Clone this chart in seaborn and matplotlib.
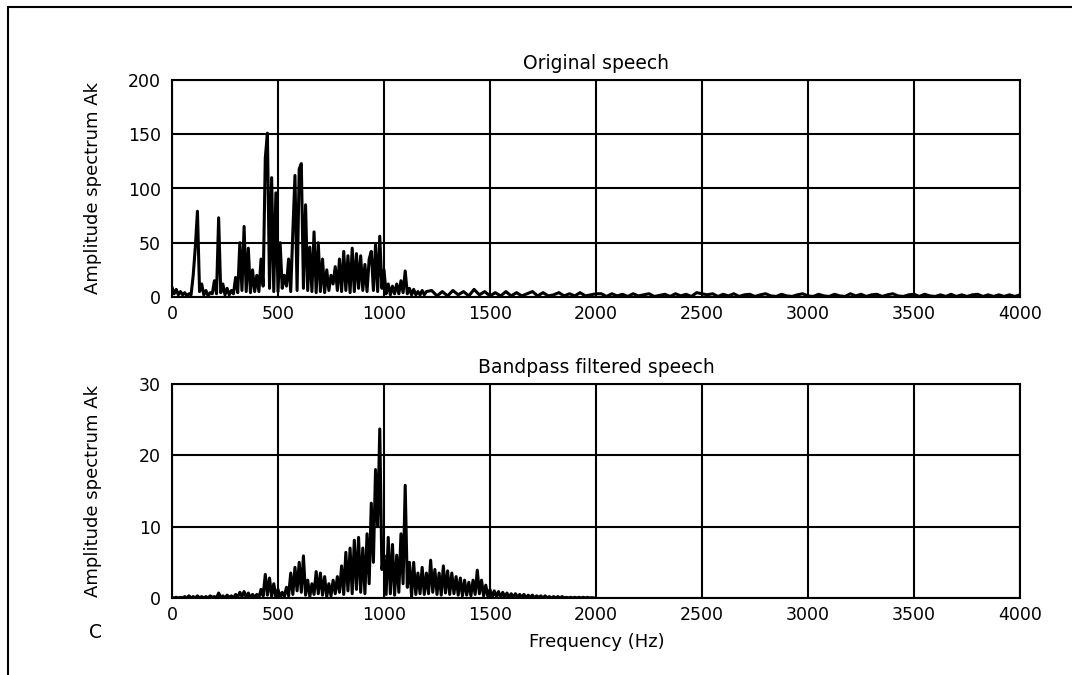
import matplotlib
matplotlib.use("Agg")
import matplotlib.pyplot as plt
import numpy as np
import seaborn as sns
from matplotlib.lines import Line2D

# frequency grids (Hz)
FREQ_LOW = np.arange(0, 1201, 10)
FREQ_TAIL = np.arange(1225, 4001, 25)
FREQ_BP = np.arange(0, 2001, 10)

# original speech, 0-1200 Hz in 10 Hz steps
orig_low = [
    9, 3, 7, 2, 5, 2, 4, 1, 3, 2,
    20, 46, 79, 5, 12, 2, 6, 1, 4, 3,
    15, 3, 73, 4, 12, 2, 8, 2, 6, 3,
    18, 4, 50, 6, 65, 5, 45, 4, 25, 5,
    20, 5, 35, 10, 128, 151, 8, 110, 5, 96,
    5, 50, 8, 20, 10, 35, 5, 60, 112, 6,
    118, 123, 8, 85, 6, 46, 5, 60, 4, 50,
    5, 35, 4, 25, 6, 20, 12, 28, 6, 35,
    5, 42, 6, 38, 4, 45, 5, 40, 8, 38,
    6, 30, 5, 35, 42, 6, 48, 5, 56, 8,
    25, 3, 12, 2, 10, 3, 12, 3, 15, 4,
    24, 3, 8, 2, 7, 2, 5, 2, 6, 2,
    5,
]
# original speech, 1225-4000 Hz in 25 Hz steps
orig_tail = [
    6, 1, 5, 1, 6, 2, 5, 1, 7, 2, 5, 1,
    4, 1, 5, 1, 4, 1, 3, 5, 1, 4, 1, 2, 4, 1, 3, 1, 4, 1, 2, 3,
    3, 0.5, 3, 1, 2.5, 0.5, 3, 1, 2, 3, 0.5, 1.5, 2.5, 0.5, 3, 1, 2.5, 0.5, 4, 3,
    2, 3, 0.5, 2.5, 1, 3, 0.5, 2, 2.5, 0.5, 2, 3, 1, 0.5, 2.5, 1, 0.5, 2, 3, 1,
    0.5, 2.5, 1, 0.5, 2.5, 1, 0.5, 3, 1, 2.5, 0.5, 2, 2.5, 0.5, 2, 3, 1, 0.5, 2, 2.5,
    0.5, 2.5, 1, 0.5, 2, 0.5, 2.5, 0.5, 2, 0.5, 2, 2.5, 0.5, 2, 0.5, 2, 0.5, 2, 0.5, 2,
]
# bandpass filtered speech, 0-2000 Hz in 10 Hz steps
bp_vals = [
    0.1, 0.0, 0.1, 0.0, 0.1, 0.0, 0.2, 0.0, 0.3, 0.0,
    0.2, 0.0, 0.3, 0.0, 0.2, 0.0, 0.2, 0.0, 0.3, 0.1,
    0.2, 0.0, 0.7, 0.1, 0.3, 0.0, 0.4, 0.1, 0.3, 0.0,
    0.5, 0.1, 0.8, 0.2, 0.9, 0.1, 0.7, 0.0, 0.5, 0.1,
    0.5, 0.1, 1.2, 0.3, 3.3, 0.4, 2.8, 0.2, 2.0, 0.1,
    1.2, 0.1, 0.8, 0.2, 1.5, 0.3, 3.5, 0.5, 4.3, 1.0,
    5.0, 0.8, 5.9, 0.4, 2.5, 0.2, 2.0, 0.5, 3.7, 0.6,
    3.5, 0.4, 3.0, 0.2, 2.0, 0.3, 2.5, 0.6, 3.0, 0.8,
    4.5, 0.5, 6.4, 1.0, 7.0, 0.6, 8.1, 1.2, 8.5, 0.8,
    7.0, 0.6, 9.0, 2.0, 13.3, 5.0, 18.0, 10.0, 23.7, 4.0,
    6.0, 0.5, 8.5, 0.6, 7.5, 0.4, 6.0, 0.8, 9.0, 2.0,
    15.8, 1.5, 5.0, 0.2, 5.0, 0.5, 3.5, 0.6, 4.3, 0.5,
    3.5, 0.6, 5.3, 0.8, 4.0, 0.5, 3.5, 0.4, 4.5, 0.7,
    3.8, 0.5, 3.5, 0.6, 3.0, 0.4, 2.8, 0.3, 2.5, 0.4,
    2.2, 0.3, 2.5, 0.5, 3.9, 0.6, 2.5, 0.3, 1.8, 0.2,
    1.2, 0.1, 1.0, 0.2, 0.9, 0.1, 0.8, 0.1, 0.7, 0.1,
    0.6, 0.1, 0.6, 0.1, 0.5, 0.1, 0.5, 0.0, 0.4, 0.1,
    0.4, 0.0, 0.3, 0.1, 0.3, 0.0, 0.3, 0.0, 0.2, 0.0,
    0.2, 0.0, 0.2, 0.0, 0.2, 0.0, 0.1, 0.0, 0.1, 0.0,
    0.1, 0.0, 0.1, 0.0, 0.1, 0.0, 0.1, 0.0, 0.05, 0.0,
    0.0,
]

X_TICKS = [0, 500, 1000, 1500, 2000, 2500, 3000, 3500, 4000]
TOP_Y_TICKS = [0, 50, 100, 150, 200]
BOT_Y_TICKS = [0, 10, 20, 30]

W, H = 1072, 675


def style_axes(ax, yticks, title):
    ax.set_xlim(0, 4000)
    ax.set_ylim(yticks[0], yticks[-1])
    ax.set_xticks(X_TICKS)
    ax.set_yticks(yticks)
    ax.grid(True, color="black", linewidth=1.5)
    ax.set_axisbelow(True)
    for sp in ax.spines.values():
        sp.set_visible(True)
        sp.set_color("black")
        sp.set_linewidth(1.5)
    ax.tick_params(direction="in", length=4, width=1.2, top=True, right=True,
                   labelsize=12.5, colors="black")
    ax.tick_params(axis="x", pad=6)
    ax.tick_params(axis="y", pad=8)
    ax.set_title(title, fontsize=13.5, pad=8, color="black")
    ax.set_ylabel("Amplitude spectrum Ak", fontsize=13, color="black")
    ax.yaxis.set_label_coords(-0.082, 0.5)
    ax.set_xlabel("")


sns.set_style("white")
plt.rcParams["font.family"] = ["DejaVu Sans"]
plt.rcParams["text.color"] = "black"

fig = plt.figure(figsize=(W / 100, H / 100), dpi=100)
ax1 = fig.add_axes([172 / W, 1 - 297 / H, 848 / W, 217 / H])
ax2 = fig.add_axes([172 / W, 1 - 598 / H, 848 / W, 214 / H])

top_x = np.concatenate([FREQ_LOW, FREQ_TAIL])
top_y = np.array(orig_low + orig_tail, dtype=float)
sns.lineplot(x=top_x, y=top_y, color="black", linewidth=2.2, estimator=None, sort=False, ax=ax1)
sns.lineplot(x=FREQ_BP, y=np.array(bp_vals), color="black", linewidth=2.2, estimator=None, sort=False, ax=ax2)

style_axes(ax1, TOP_Y_TICKS, "Original speech")
style_axes(ax2, BOT_Y_TICKS, "Bandpass filtered speech")
ax2.set_xlabel("Frequency (Hz)", fontsize=13, color="black")
ax2.xaxis.set_label_coords(0.501, -0.162)

fig.text(95 / W, 1 - 633 / H, "C", ha="center", va="center", fontsize=13.5)

# outer frame (left and top edges)
fig.add_artist(Line2D([8 / W, 8 / W], [0, 1 - 7 / H], transform=fig.transFigure, color="black", linewidth=1.5))
fig.add_artist(Line2D([8 / W, 1], [1 - 7 / H, 1 - 7 / H], transform=fig.transFigure, color="black", linewidth=1.5))

fig.savefig("out.png", dpi=100)
plt.close(fig)
